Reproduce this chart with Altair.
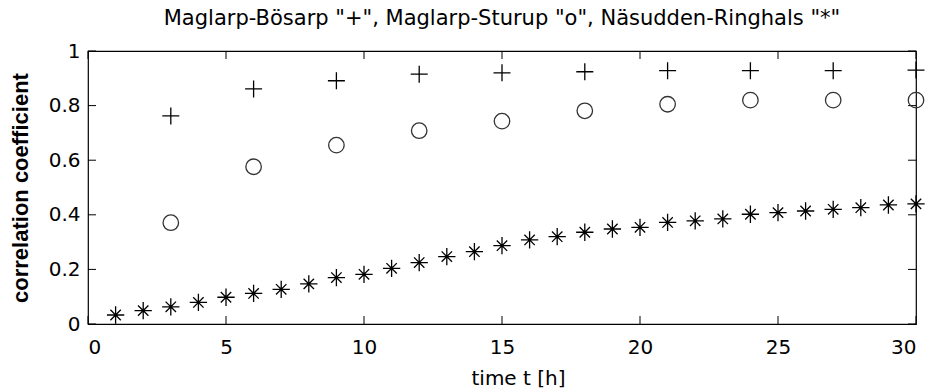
import altair as alt
import pandas as pd

# ---- data ----
t_bosarp = [3, 6, 9, 12, 15, 18, 21, 24, 27, 30]
bosarp = [0.762, 0.861, 0.891, 0.915, 0.920, 0.924, 0.928, 0.928, 0.928, 0.930]

t_sturup = [3, 6, 9, 12, 15, 18, 21, 24, 27, 30]
sturup = [0.371, 0.576, 0.655, 0.708, 0.743, 0.781, 0.805, 0.820, 0.820, 0.820]

t_ringhals = list(range(1, 31))
ringhals = [0.033, 0.049, 0.063, 0.079, 0.098, 0.112, 0.127, 0.147, 0.170, 0.182,
            0.204, 0.225, 0.247, 0.265, 0.287, 0.308, 0.320, 0.336, 0.348, 0.354,
            0.372, 0.378, 0.385, 0.402, 0.408, 0.414, 0.420, 0.426, 0.436, 0.440]

x_ticks = [0, 5, 10, 15, 20, 25, 30]
y_ticks = [0, 0.2, 0.4, 0.6, 0.8, 1]

title_text = 'Maglarp-Bösarp "+", Maglarp-Sturup "o", Näsudden-Ringhals "*"'
x_title = "time t [h]"
y_title = "correlation coefficient"

FONT = "DejaVu Sans"
BOLD_FONT = "Liberation Sans"

df_b = pd.DataFrame({"t": t_bosarp, "r": bosarp})
df_s = pd.DataFrame({"t": t_sturup, "r": sturup})
df_r = pd.DataFrame({"t": t_ringhals, "r": ringhals})
df_xb = pd.DataFrame({"t": x_ticks, "r": [0] * len(x_ticks)})
df_xt = pd.DataFrame({"t": x_ticks, "r": [1] * len(x_ticks)})
df_yl = pd.DataFrame({"t": [0] * len(y_ticks), "r": y_ticks})
df_yr = pd.DataFrame({"t": [30] * len(y_ticks), "r": y_ticks})

xs = alt.X(
    "t:Q",
    scale=alt.Scale(domain=[0, 30], nice=False, zero=False),
    axis=alt.Axis(
        values=x_ticks, title=x_title, domain=False, ticks=False, grid=False,
        labelFont=FONT, labelFontSize=20, labelColor="black", labelPadding=13,
        titleFont=FONT, titleFontSize=20, titleFontWeight="normal", titleColor="black",
        titleBaseline="alphabetic", titleY=60, titleX=430, titleAlign="center",
    ),
)
ys = alt.Y(
    "r:Q",
    scale=alt.Scale(domain=[0, 1], nice=False, zero=False),
    axis=alt.Axis(
        values=y_ticks, format=".1~f", title=y_title, domain=False, ticks=False, grid=False,
        labelFont=FONT, labelFontSize=20, labelColor="black", labelPadding=8,
        titleFont=BOLD_FONT, titleFontSize=22, titleFontWeight="bold", titleColor="black",
        titleBaseline="alphabetic", titleX=-61,
    ),
)

plus_path = "M-1,0L1,0M0,-1L0,1"
star_path = "M-1,0L1,0M0,-1L0,1M-0.6,-0.6L0.6,0.6M-0.6,0.6L0.6,-0.6"

plus = alt.Chart(df_b).mark_point(
    shape=plus_path, size=289, stroke="black", strokeWidth=1.3, filled=False, opacity=1
).encode(x=xs, y=ys)

circ = alt.Chart(df_s).mark_point(
    shape="circle", size=240, stroke="#333333", strokeWidth=1.3, filled=False, opacity=1
).encode(x=xs, y=ys)

star = alt.Chart(df_r).mark_point(
    shape=star_path, size=300, stroke="black", strokeWidth=1.3, filled=False, opacity=1
).encode(x=xs, y=ys)

tick_style = dict(color="black", thickness=1, size=8, opacity=1)
tb = alt.Chart(df_xb).mark_tick(orient="vertical", yOffset=-4, **tick_style).encode(x=xs, y=ys)
tt = alt.Chart(df_xt).mark_tick(orient="vertical", yOffset=4, **tick_style).encode(x=xs, y=ys)
tl = alt.Chart(df_yl).mark_tick(orient="horizontal", xOffset=4, **tick_style).encode(x=xs, y=ys)
tr = alt.Chart(df_yr).mark_tick(orient="horizontal", xOffset=-4, **tick_style).encode(x=xs, y=ys)

chart = (
    alt.layer(tb, tt, tl, tr, star, circ, plus)
    .properties(
        width=828,
        height=273,
        padding={"left": 88, "top": 51, "right": 15, "bottom": 68},
        autosize=alt.AutoSizeParams(type="none"),
        background="white",
        title=alt.TitleParams(
            text=title_text, font=FONT, fontSize=21, fontWeight="normal", color="black",
            anchor="middle", frame="group", baseline="alphabetic", offset=23, dy=28,
        ),
    )
    .configure_view(stroke="black", strokeWidth=1.2)
)

chart.save("out.html", embed_options={"renderer": "svg", "actions": False})
